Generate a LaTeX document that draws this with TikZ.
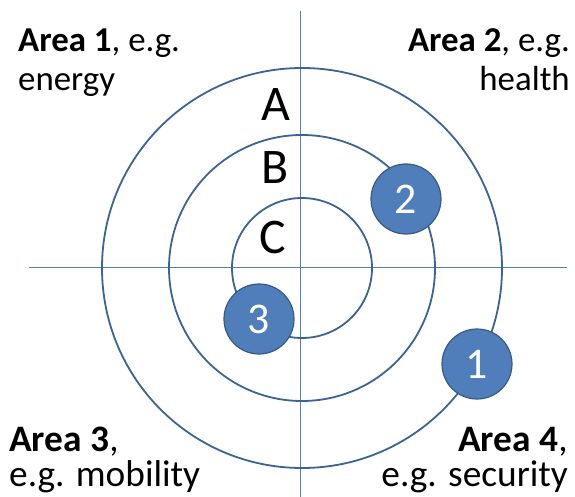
\documentclass[tikz,border=0pt]{standalone}
\usepackage{fontspec}
\setmainfont{Carlito}

\definecolor{ringblue}{RGB}{58,99,150}
\definecolor{axisblue}{RGB}{79,129,189}
\definecolor{badgefill}{RGB}{79,126,187}
\definecolor{badgeline}{RGB}{54,90,136}

\begin{document}
\begin{tikzpicture}[x=1bp, y=-1bp]

\tikzstyle{ring} = [draw=ringblue, line width=1.8bp]
\tikzstyle{axis} = [draw=axisblue, line width=0.9bp]
\tikzstyle{badge} = [circle, fill=badgefill, draw=badgeline, line width=1.2bp,
                     minimum size=70bp, inner sep=0pt, text=white,
                     font=\fontsize{44}{44}\selectfont]
\tikzstyle{ringlabel} = [inner sep=0pt, font=\fontsize{50}{50}\selectfont]
\tikzstyle{toparea} = [inner sep=0pt, font=\fontsize{35}{40}\selectfont]
\tikzstyle{botarea} = [inner sep=0pt, font=\fontsize{37.5}{35}\selectfont]

\useasboundingbox (0,0) rectangle (575,497);

% the two axes
\coordinate (W) at (29,267);
\coordinate (E) at (567,267);
\coordinate (N) at (300,11);
\coordinate (S) at (300,497);
\path[axis] (W) -- (E) (N) -- (S);

% rings C, B, A
\coordinate (O) at (302,268);
\foreach \r in {70,133,200}
    \path[ring] (O) circle (\r bp);

% ring letters
\node[ringlabel] (A) at (276,105) {A};
\node[ringlabel] (B) at (275,168) {B};
\node[ringlabel] (C) at (273,238) {C};

% numbered markers on the rings
\node[badge] (b2) at (406,199) {2};
\node[badge] (b3) at (259,319) {3};
\node[badge] (b1) at (477,364) {1};

% quadrant captions (anchored on the last line)
\node[toparea, anchor=base west, align=left] (area1) at (18,91)
    {\textbf{Area 1}, e.g.\\energy};
\node[toparea, anchor=base east, align=right] (area2) at (570,91)
    {\textbf{Area 2}, e.g.\\health};
\node[botarea, anchor=base west, align=left] (area3) at (9,486)
    {\textbf{Area 3},\\e.g. mobility};
\node[botarea, anchor=base east, align=right] (area4) at (568,486)
    {\textbf{Area 4},\\e.g. security};

\end{tikzpicture}
\end{document}
